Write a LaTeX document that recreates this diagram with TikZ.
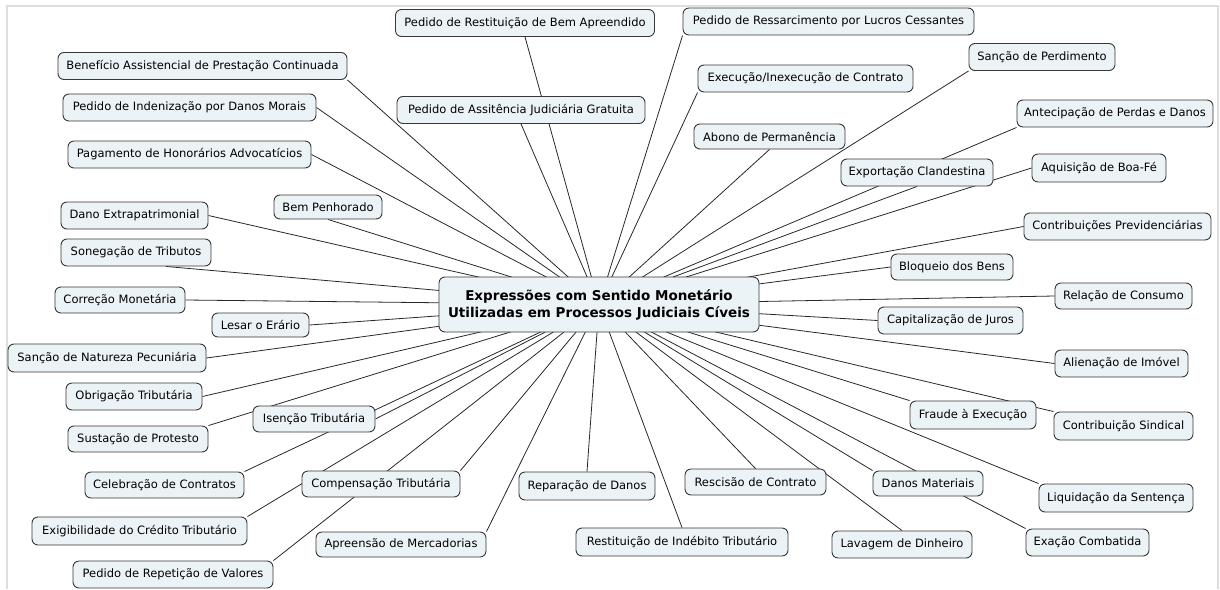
\documentclass[tikz,border=0pt]{standalone}
\usepackage{fontspec}
\setmainfont{DejaVu Sans}
\usetikzlibrary{backgrounds}
\definecolor{boxfill}{RGB}{236,243,246}
\definecolor{boxline}{RGB}{55,55,55}
\definecolor{linkline}{RGB}{40,40,40}
\definecolor{framegray}{RGB}{222,222,222}
\tikzset{
  concept/.style={draw=boxline, fill=boxfill, rounded corners=6pt, line width=0.9pt,
    minimum height=27pt, inner sep=2pt, font=\fontsize{11.5}{13}\selectfont, text=black},
  hubnode/.style={concept, minimum width=320pt, minimum height=55pt, align=center,
    font=\fontsize{13.5}{17}\selectfont\bfseries},
  link/.style={draw=linkline, line width=0.8pt},
}
\begin{document}
\begin{tikzpicture}[x=1pt,y=-1pt]
\useasboundingbox (0,0) rectangle (1220,589);
% outer frame
\draw[framegray, line width=2pt] (7,589) -- (7,6) -- (1218,6) -- (1218,589);

% central concept
\node[hubnode] (hub) at (599,304.5) {Expressões com Sentido Monetário\\Utilizadas em Processos Judiciais Cíveis};

% surrounding concepts
\node[concept, minimum width=259pt] (restit) at (525,23) {Pedido de Restituição de Bem Apreendido};
\node[concept, minimum width=291pt] (ressarc) at (828.5,21.5) {Pedido de Ressarcimento por Lucros Cessantes};
\node[concept, minimum width=289pt] (benef) at (202.5,66) {Benefício Assistencial de Prestação Continuada};
\node[concept, minimum width=215pt] (execu) at (805.5,78.5) {Execução/Inexecução de Contrato};
\node[concept, minimum width=146pt] (sancperd) at (1042,57) {Sanção de Perdimento};
\node[concept, minimum width=253pt] (indeniz) at (189.5,107.5) {Pedido de Indenização por Danos Morais};
\node[concept, minimum width=248pt] (assist) at (521,110) {Pedido de Assitência Judiciária Gratuita};
\node[concept, minimum width=196pt] (antecip) at (1115,113.5) {Antecipação de Perdas e Danos};
\node[concept, minimum width=151pt, minimum height=25pt] (abono) at (769.5,136.5) {Abono de Permanência};
\node[concept, minimum width=243pt] (honor) at (189.5,154.5) {Pagamento de Honorários Advocatícios};
\node[concept, minimum width=152pt] (export) at (917,172.5) {Exportação Clandestina};
\node[concept, minimum width=134pt, minimum height=28pt] (aquis) at (1099,168) {Aquisição de Boa-Fé};
\node[concept, minimum width=108pt, minimum height=24pt] (bem) at (328,207) {Bem Penhorado};
\node[concept, minimum width=147pt] (danoext) at (134.5,215.5) {Dano Extrapatrimonial};
\node[concept, minimum width=150pt] (soneg) at (136,252.5) {Sonegação de Tributos};
\node[concept, minimum width=187pt] (contrprev) at (1117.5,226.5) {Contribuições Previdenciárias};
\node[concept, minimum width=122pt, minimum height=26pt] (bloq) at (952,267) {Bloqueio dos Bens};
\node[concept, minimum width=130pt, minimum height=26pt] (correc) at (120,300) {Correção Monetária};
\node[concept, minimum width=137pt, minimum height=26pt] (relcons) at (1123.5,296) {Relação de Consumo};
\node[concept, minimum width=97pt, minimum height=24pt] (lesar) at (260.5,325) {Lesar o Erário};
\node[concept, minimum width=145pt] (capit) at (950.5,320.5) {Capitalização de Juros};
\node[concept, minimum width=198pt, minimum height=28pt] (sancnat) at (107,358) {Sanção de Natureza Pecuniária};
\node[concept, minimum width=133pt] (alien) at (1121.5,363.5) {Alienação de Imóvel};
\node[concept, minimum width=136pt] (obrig) at (134,396.5) {Obrigação Tributária};
\node[concept, minimum width=122pt, minimum height=26pt] (isenc) at (314,419) {Isenção Tributária};
\node[concept, minimum width=140pt, minimum height=26pt] (sust) at (138,439) {Sustação de Protesto};
\node[concept, minimum width=126pt, minimum height=28pt] (fraude) at (973,415) {Fraude à Execução};
\node[concept, minimum width=139pt, minimum height=28pt] (contrsind) at (1123.5,426) {Contribuição Sindical};
\node[concept, minimum width=159pt, minimum height=26pt] (celeb) at (164.5,485) {Celebração de Contratos};
\node[concept, minimum width=158pt, minimum height=26pt] (compens) at (381,484) {Compensação Tributária};
\node[concept, minimum width=136pt, minimum height=28pt] (repar) at (587,486) {Reparação de Danos};
\node[concept, minimum width=141pt, minimum height=26pt] (rescis) at (755.5,482) {Rescisão de Contrato};
\node[concept, minimum width=110pt, minimum height=25pt] (danosmat) at (928,483.5) {Danos Materiais};
\node[concept, minimum width=154pt, minimum height=28pt] (liquid) at (1116,498) {Liquidação da Sentença};
\node[concept, minimum width=215pt, minimum height=28pt] (exig) at (139.5,531) {Exigibilidade do Crédito Tributário};
\node[concept, minimum width=170pt, minimum height=25pt] (apreens) at (401,544.5) {Apreensão de Mercadorias};
\node[concept, minimum width=212pt, minimum height=28pt] (restind) at (682,542) {Restituição de Indébito Tributário};
\node[concept, minimum width=140pt] (lavagem) at (902,544.5) {Lavagem de Dinheiro};
\node[concept, minimum width=123pt] (exacao) at (1087.5,542.5) {Exação Combatida};
\node[concept, minimum width=200pt] (repet) at (173,574.5) {Pedido de Repetição de Valores};

% links from the central concept to the side or corner of each box facing it,
% drawn behind the boxes
\begin{pgfonlayer}{background}
\foreach \n/\a in {restit/south, ressarc/south west, benef/south east, execu/south west,
  sancperd/south west, indeniz/east, assist/south, antecip/south west, abono/south,
  honor/east, export/south, aquis/west, bem/south, danoext/east, soneg/-25,
  contrprev/west, bloq/west, correc/east, relcons/west, lesar/east, capit/west,
  sancnat/east, alien/west, obrig/east, isenc/east, sust/north east, fraude/north west,
  contrsind/north west, celeb/north east, compens/north east, repar/north,
  rescis/north, danosmat/north west, liquid/north west, exig/north east,
  apreens/north east, restind/north, lavagem/north, exacao/north west, repet/north east}
  \draw[link] (hub.center) -- (\n.\a);
\end{pgfonlayer}
\end{tikzpicture}
\end{document}
